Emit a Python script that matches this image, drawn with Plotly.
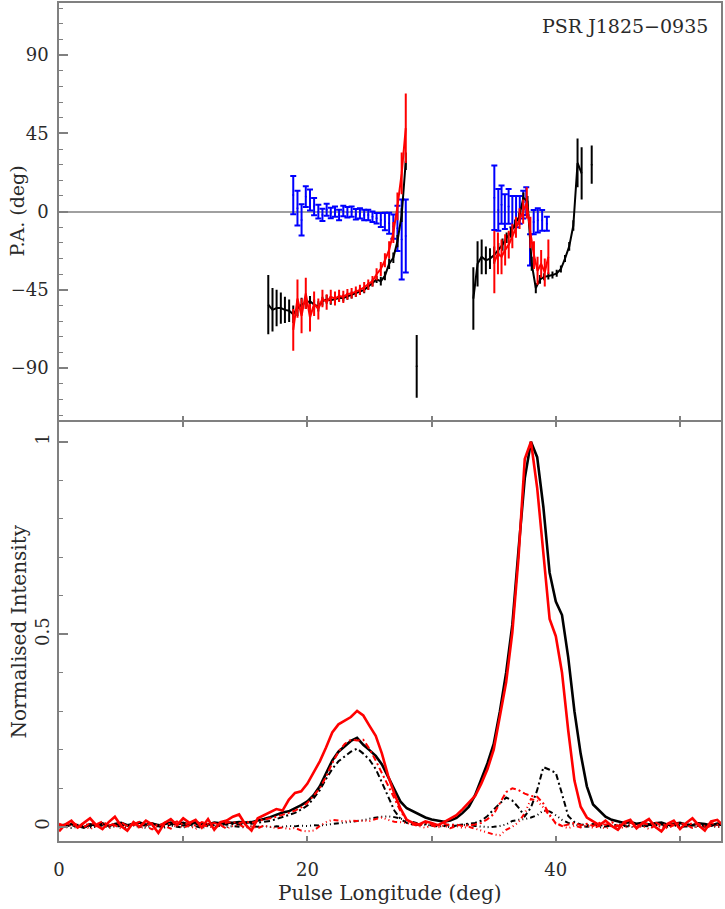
import plotly.graph_objects as go

# ---------------- profile data (bottom panel) ----------------
lon = [0.0, 0.5, 1.0, 1.5, 2.0, 2.5, 3.0, 3.5, 4.0, 4.5,
       5.0, 5.5, 6.0, 6.5, 7.0, 7.5, 8.0, 8.5, 9.0, 9.5,
       10.0, 10.5, 11.0, 11.5, 12.0, 12.5, 13.0, 13.5, 14.0, 14.5,
       15.0, 15.5, 16.0, 16.5, 17.0, 17.5, 18.0, 18.5, 19.0, 19.5,
       20.0, 20.5, 21.0, 21.5, 22.0, 22.5, 23.0, 23.5, 24.0, 24.5,
       25.0, 25.5, 26.0, 26.5, 27.0, 27.5, 28.0, 28.5, 29.0, 29.5,
       30.0, 30.5, 31.0, 31.5, 32.0, 32.5, 33.0, 33.5, 34.0, 34.5,
       35.0, 35.5, 36.0, 36.5, 37.0, 37.5, 38.0, 38.5, 39.0, 39.5,
       40.0, 40.5, 41.0, 41.5, 42.0, 42.5, 43.0, 43.5, 44.0, 44.5,
       45.0, 45.5, 46.0, 46.5, 47.0, 47.5, 48.0, 48.5, 49.0, 49.5,
       50.0, 50.5, 51.0, 51.5, 52.0, 52.5, 53.0, 53.5]

black_I = [0.004, 0.000, 0.007, 0.003, -0.002, 0.006, 0.004, 0.009, 0.002, 0.007,
           0.010, 0.004, 0.008, 0.011, 0.005, 0.009, 0.003, 0.008, 0.011, 0.006,
           0.010, 0.005, 0.012, 0.007, 0.006, 0.011, 0.009, 0.011, 0.010, 0.012,
           0.011, 0.012, 0.015, 0.020, 0.025, 0.032, 0.037, 0.040, 0.047, 0.056,
           0.066, 0.082, 0.105, 0.140, 0.172, 0.195, 0.210, 0.223, 0.231, 0.213,
           0.199, 0.184, 0.162, 0.130, 0.097, 0.065, 0.048, 0.040, 0.030, 0.024,
           0.019, 0.015, 0.013, 0.016, 0.023, 0.036, 0.052, 0.082, 0.122, 0.165,
           0.215, 0.300, 0.400, 0.525, 0.720, 0.905, 1.000, 0.960, 0.830, 0.660,
           0.585, 0.550, 0.440, 0.300, 0.190, 0.105, 0.058, 0.043, 0.026, 0.018,
           0.014, 0.010, 0.012, 0.008, 0.010, 0.006, 0.009, 0.011, 0.005, 0.008,
           0.010, 0.006, 0.004, 0.009, 0.007, 0.003, 0.008, 0.006]

black_L = [0.003, 0.006, 0.001, 0.005, 0.008, 0.002, 0.004, 0.007, 0.001, 0.005,
           0.006, 0.002, 0.008, 0.004, 0.003, 0.007, 0.005, 0.001, 0.006, 0.008,
           0.003, 0.005, 0.007, 0.002, 0.006, 0.004, 0.008, 0.005, 0.007, 0.006,
           0.009, 0.008, 0.010, 0.012, 0.015, 0.020, 0.025, 0.030, 0.036, 0.045,
           0.055, 0.074, 0.095, 0.124, 0.150, 0.170, 0.183, 0.195, 0.203, 0.190,
           0.174, 0.150, 0.115, 0.076, 0.042, 0.020, 0.010, 0.006, 0.004, 0.007,
           0.003, 0.005, 0.002, 0.006, 0.004, 0.006, 0.008, 0.010, 0.016, 0.028,
           0.045, 0.060, 0.076, 0.068, 0.050, 0.027, 0.050, 0.095, 0.155, 0.148,
           0.140, 0.085, 0.028, 0.012, 0.006, 0.004, 0.007, 0.003, 0.005, 0.002,
           0.006, 0.004, 0.003, 0.007, 0.002, 0.005, 0.004, 0.006, 0.002, 0.005,
           0.003, 0.006, 0.004, 0.002, 0.005, 0.003, 0.006, 0.004]

black_V = [-0.002, 0.002, -0.003, 0.001, 0.003, -0.002, 0.000, 0.003, -0.003, 0.001,
           0.002, -0.002, 0.003, 0.000, -0.003, 0.002, 0.001, -0.002, 0.003, 0.000,
           -0.002, 0.002, 0.001, -0.003, 0.002, 0.000, 0.003, -0.001, 0.002, 0.000,
           -0.002, 0.001, 0.000, 0.002, -0.001, 0.001, 0.000, 0.002, 0.001, 0.003,
           0.002, 0.004, 0.003, 0.005, 0.007, 0.008, 0.010, 0.012, 0.014, 0.017,
           0.021, 0.024, 0.026, 0.027, 0.025, 0.021, 0.016, 0.012, 0.008, 0.005,
           0.003, 0.001, 0.002, -0.001, 0.003, 0.004, 0.006, 0.002, 0.000, -0.001,
           0.000, 0.002, 0.006, 0.015, 0.018, 0.020, 0.024, 0.030, 0.042, 0.040,
           0.030, 0.018, 0.010, 0.005, 0.002, 0.000, 0.002, -0.002, 0.001, 0.003,
           -0.001, 0.002, 0.000, -0.002, 0.002, 0.001, -0.002, 0.002, 0.000, 0.003,
           -0.001, 0.001, -0.002, 0.002, 0.000, 0.002, -0.001, 0.001]

red_I = [-0.012, 0.006, 0.016, -0.002, 0.010, 0.022, 0.004, -0.006, 0.012, 0.026,
         0.002, -0.010, 0.012, 0.000, 0.016, 0.006, -0.016, 0.010, 0.020, 0.004,
         0.022, 0.010, 0.018, -0.002, 0.020, -0.008, 0.012, 0.016, 0.026, 0.032,
         0.006, -0.010, 0.022, 0.030, 0.040, 0.046, 0.042, 0.070, 0.088, 0.092,
         0.112, 0.140, 0.170, 0.206, 0.245, 0.266, 0.276, 0.285, 0.301, 0.289,
         0.262, 0.236, 0.190, 0.132, 0.086, 0.047, 0.018, 0.010, 0.006, 0.014,
         0.010, 0.004, 0.012, 0.020, 0.030, 0.046, 0.064, 0.080, 0.112, 0.150,
         0.200, 0.290, 0.375, 0.505, 0.700, 0.955, 1.000, 0.880, 0.710, 0.540,
         0.495, 0.400, 0.250, 0.120, 0.052, 0.024, 0.014, 0.004, 0.016, 0.002,
         -0.008, 0.012, 0.018, -0.004, 0.010, 0.020, 0.000, -0.012, 0.008, 0.016,
         -0.006, 0.010, 0.022, 0.004, -0.010, 0.014, 0.018, 0.002]

red_L = [0.008, 0.002, 0.012, 0.005, -0.002, 0.010, 0.006, 0.014, 0.003, 0.008,
         0.012, 0.001, 0.007, 0.013, 0.004, 0.009, 0.002, 0.011, 0.006, 0.014,
         0.005, 0.009, 0.003, 0.012, 0.007, 0.010, 0.004, 0.011, 0.012, 0.009,
         0.014, 0.010, 0.015, 0.018, 0.022, 0.026, 0.030, 0.036, 0.042, 0.050,
         0.062, 0.080, 0.100, 0.130, 0.165, 0.195, 0.215, 0.226, 0.224, 0.226,
         0.202, 0.172, 0.140, 0.110, 0.074, 0.040, 0.018, 0.008, 0.004, 0.010,
         0.006, 0.002, 0.008, 0.004, 0.006, 0.002, 0.004, 0.006, 0.010, 0.020,
         0.033, 0.062, 0.090, 0.100, 0.095, 0.086, 0.080, 0.078, 0.060, 0.032,
         0.008, 0.002, 0.006, 0.010, 0.004, 0.008, 0.002, 0.010, 0.005, 0.012,
         0.003, 0.008, 0.011, 0.002, 0.009, 0.006, 0.012, 0.003, 0.008, 0.005,
         0.011, 0.004, 0.009, 0.007, 0.002, 0.010, 0.005, 0.008]

red_V = [0.004, -0.004, 0.006, -0.002, 0.003, -0.006, 0.002, 0.007, -0.003, 0.004,
         -0.005, 0.003, 0.006, -0.004, 0.001, -0.007, 0.004, 0.002, -0.005, 0.006,
         -0.002, 0.003, -0.006, 0.005, 0.001, -0.003, 0.004, -0.005, 0.002, 0.006,
         -0.003, 0.001, -0.004, 0.003, 0.000, -0.004, -0.002, -0.006, -0.003, -0.010,
         -0.012, -0.010, 0.002, 0.012, 0.018, 0.016, 0.014, 0.016, 0.015, 0.016,
         0.015, 0.020, 0.024, 0.018, 0.013, 0.012, 0.010, 0.006, 0.002, -0.003,
         0.004, -0.002, 0.003, -0.004, 0.002, -0.003, 0.000, -0.005, -0.012, -0.015,
         -0.020, -0.022, -0.008, 0.000, 0.012, 0.035, 0.072, 0.068, 0.050, 0.028,
         0.010, 0.002, -0.004, 0.003, -0.002, 0.004, -0.003, 0.002, -0.005, 0.003,
         0.001, -0.004, 0.005, -0.002, 0.002, -0.006, 0.003, 0.001, -0.004, 0.004,
         -0.002, 0.005, -0.003, 0.001, -0.005, 0.003, 0.000, -0.002]

# ---------------- position-angle data (top panel) ----------------
pa_black_x = [16.85, 17.19, 17.52, 17.86, 18.19, 18.53, 18.86, 19.20, 19.53, 19.87,
              20.21, 20.54, 20.88, 21.21, 21.55, 21.88, 22.22, 22.55, 22.89, 23.22,
              23.56, 23.90, 24.23, 24.57, 24.90, 25.24, 25.57, 25.91, 26.24, 26.58,
              26.92, 27.25, 27.59, 27.92]
pa_black = [-53.5, -56.5, -55.5, -55.5, -56.5, -57, -59, -55.5, -53.5, -52.5,
            -51.5, -53.5, -54.5, -51.5, -50.5, -51, -50.5, -49.7, -49.7, -48.7,
            -48, -47, -46, -45, -43, -41, -39, -40, -37, -30,
            -26.5, -17, -2, 29]
pa_black_err = [17, 12.5, 10.5, 9, 7.5, 6.5, 5, 4.5, 4, 3.5,
                3, 3, 3, 2.5, 2.5, 2.5, 2, 2, 2, 2,
                2, 2, 2, 2, 2, 2, 2, 2.5, 2.5, 3,
                3, 3.5, 4, 5]

pa_red_x = [18.86, 19.20, 19.53, 19.87, 20.21, 20.54, 20.88, 21.21, 21.55, 21.88,
            22.22, 22.55, 22.89, 23.22, 23.56, 23.90, 24.23, 24.57, 24.90, 25.24,
            25.57, 25.91, 26.24, 26.58, 26.92, 27.25, 27.59, 27.92]
pa_red = [-68, -50, -60, -47, -61, -53, -56, -50, -52, -49,
          -50, -48.5, -49, -47.5, -47, -46, -45, -43.5, -42, -40,
          -36, -33, -28, -22, -12, 3, 22, 48]
pa_red_err = [12, 11, 10, 9, 8, 7, 6, 5, 4.5, 4,
              4, 3.5, 3.5, 3, 3, 3, 3, 3, 3, 3,
              3.5, 4, 4, 5, 6, 8, 12, 20]

pa_blue_x = [18.86, 19.20, 19.53, 19.87, 20.21, 20.54, 20.88, 21.21, 21.55, 21.88,
             22.22, 22.55, 22.89, 23.22, 23.56, 23.90, 24.23, 24.57, 24.90, 25.24,
             25.57, 25.91, 26.24, 26.58, 26.92, 27.25, 27.59, 27.92]
pa_blue = [9.5, 2, -4.8, 8.6, 6.7, 2.9, 0, -1.9, 1.1, -0.8,
           0, -1.9, 0.4, -0.4, 0, -1.5, -1, -1.9, -1.9, -2.9,
           -3.8, -4.8, -5.7, -6.7, -8.6, -9.6, -16, -14]
pa_blue_err = [11, 10, 9, 6, 6, 5, 4, 3.5, 3.5, 3,
               3, 3, 3, 3, 3, 3, 3, 3, 3, 3,
               3, 4, 5, 6, 7, 13, 23, 21]

pa_black2_x = [33.36, 33.70, 34.03, 34.37, 34.70, 35.04, 35.37, 35.71, 36.04, 36.38,
               36.72, 37.05, 37.39, 37.72, 38.06, 38.39, 38.73, 39.06, 39.40, 39.73,
               40.07, 40.41, 40.74, 41.08, 41.41, 41.75, 42.08]
pa_black2 = [-50, -30, -26, -28, -27, -25, -22, -19, -15, -12,
             -7, -3, 8, 6, -30, -44, -39, -37.5, -37, -36.5,
             -35.5, -33, -27, -20, -8, 28, 22]
pa_black2_err = [18, 13, 10, 8, 6, 5, 4, 3.5, 3, 3,
                 2.5, 2.5, 3, 3, 4, 3, 2.5, 2, 2, 2,
                 2, 2, 2, 2.5, 3, 14, 15]

pa_red2_x = [35.05, 35.34, 35.63, 35.92, 36.21, 36.50, 36.79, 37.08, 37.37, 37.66,
             37.95, 38.24, 38.53, 38.82, 39.11, 39.40]
pa_red2 = [-29, -24, -26, -22, -19, -14, -9, -4, 0, 5,
           -12, -25, -34, -30, -35, -26]
pa_red2_err = [18, 12, 10, 9, 8, 7, 6, 6, 7, 9,
               9, 8, 8, 8, 8, 10]

pa_blue2_x = [35.05, 35.37, 35.63, 35.90, 36.20, 36.50, 36.80, 37.10, 37.38, 37.62,
              37.92, 38.22, 38.55, 38.90, 39.28]
pa_blue2 = [8, 1, 4, 0, 3, 0, 0, 1, 4, 6, -22, -6, -5, -5, -7]
pa_blue2_err = [18.6, 12, 11, 10, 10, 9, 9, 8, 8, 8, 9, 7, 7, 6, 4]

pa_single_x = [28.80, 42.89]
pa_single = [-89, 27]
pa_single_err = [18, 11]

BLACK = "#000000"
RED = "#ff0000"
BLUE = "#0000ff"
AXC = "#808080"
FONT = "DejaVu Serif"
TXT = "#2a2a2a"

fig = go.Figure()

def pa_trace(x, y, e, color, mode="lines", cap=0, size=2):
    return go.Scatter(x=x, y=y, mode=mode, xaxis="x", yaxis="y",
                      line=dict(color=color, width=2),
                      marker=dict(color=color, size=size),
                      error_y=dict(type="data", array=e, visible=True, color=color,
                                   thickness=2, width=cap),
                      showlegend=False, hoverinfo="skip")

fig.add_trace(pa_trace(pa_blue_x, pa_blue, pa_blue_err, BLUE, mode="markers", cap=3))
fig.add_trace(pa_trace(pa_blue2_x, pa_blue2, pa_blue2_err, BLUE, mode="markers", cap=3))
fig.add_trace(pa_trace(pa_black_x, pa_black, pa_black_err, BLACK))
fig.add_trace(pa_trace(pa_black2_x, pa_black2, pa_black2_err, BLACK))
fig.add_trace(pa_trace(pa_single_x, pa_single, pa_single_err, BLACK, mode="markers"))
fig.add_trace(pa_trace(pa_red_x, pa_red, pa_red_err, RED))
fig.add_trace(pa_trace(pa_red2_x, pa_red2, pa_red2_err, RED))

DASH_L = "6px,3px,2px,3px"
DASH_V = "5px,3px,1px,3px,1px,3px,1px,3px"

def prof(y, color, dash, width):
    return go.Scatter(x=lon, y=y, mode="lines", xaxis="x2", yaxis="y2",
                      line=dict(color=color, width=width, dash=dash),
                      showlegend=False, hoverinfo="skip")

fig.add_trace(prof(black_V, BLACK, DASH_V, 2))
fig.add_trace(prof(black_L, BLACK, DASH_L, 2))
fig.add_trace(prof(black_I, BLACK, "solid", 2.6))
fig.add_trace(prof(red_V, RED, DASH_V, 2))
fig.add_trace(prof(red_L, RED, DASH_L, 2))
fig.add_trace(prof(red_I, RED, "solid", 2.6))

PH = 840.0
split = 421 / PH
gap = 0.75 / PH

axis_common = dict(showgrid=False, showline=True, linecolor=AXC, linewidth=1.5,
                   ticks="inside", tickcolor=AXC, tickwidth=1.5,
                   tickfont=dict(family=FONT, size=18, color=TXT))

fig.update_layout(
    width=725, height=909,
    margin=dict(l=59, r=4, t=1, b=68),
    paper_bgcolor="white", plot_bgcolor="white",
    xaxis=dict(domain=[0, 1], anchor="y", range=[0, 53.3], dtick=10, tick0=0,
               ticklen=5, showticklabels=False, mirror=True, zeroline=False,
               **axis_common),
    yaxis=dict(domain=[split + gap, 1], anchor="x", range=[-120, 120], dtick=45, tick0=0,
               ticklen=9, mirror=True, zeroline=True, zerolinecolor="#a0a0a0",
               zerolinewidth=1.5, ticklabelstandoff=5,
               minor=dict(dtick=9, tick0=0, ticklen=4.5, ticks="inside",
                          tickcolor=AXC, tickwidth=1.2),
               **axis_common),
    xaxis2=dict(domain=[0, 1], anchor="y2", range=[0, 53.3], dtick=20, tick0=0,
                ticklen=5, mirror="ticks", zeroline=False, ticklabelstandoff=12,
                minor=dict(dtick=10, tick0=0, ticklen=5, ticks="inside",
                           tickcolor=AXC, tickwidth=1.5),
                **axis_common),
    yaxis2=dict(domain=[0, split - gap], anchor="x2", range=[-0.037, 1.052], dtick=0.5,
                tick0=0, ticklen=9, mirror=True, zeroline=False, tickangle=-90,
                ticklabelstandoff=1,
                minor=dict(dtick=0.1, tick0=0, ticklen=4.5, ticks="inside",
                           tickcolor=AXC, tickwidth=1.2),
                **axis_common),
    annotations=[
        dict(text="PSR J1825\u22120935", xref="paper", yref="paper", x=1, y=1,
             xanchor="right", yanchor="top", xshift=-11, yshift=-10, showarrow=False,
             font=dict(family=FONT, size=19, color=TXT)),
        dict(text="P.A. (deg)", xref="paper", yref="paper", x=0, y=(841 - 210) / PH,
             xanchor="center", yanchor="middle", xshift=-42, textangle=-90,
             showarrow=False, font=dict(family=FONT, size=19, color=TXT)),
        dict(text="Normalised Intensity", xref="paper", yref="paper", x=0,
             y=(841 - 631) / PH, xanchor="center", yanchor="middle", xshift=-41,
             textangle=-90, showarrow=False, font=dict(family=FONT, size=20, color=TXT)),
        dict(text="Pulse Longitude (deg)", xref="paper", yref="paper", x=0.5,
             y=(841 - 893) / PH, xanchor="center", yanchor="middle",
             showarrow=False, font=dict(family=FONT, size=20, color=TXT)),
    ],
)

fig.write_html("out.html", config={"displayModeBar": False},
               post_script="document.body.style.margin='0px';")
